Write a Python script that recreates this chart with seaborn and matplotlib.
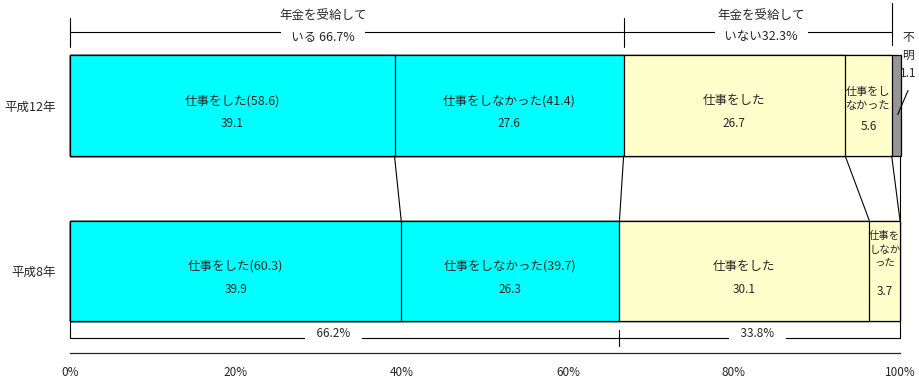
import numpy as np
import pandas as pd
import matplotlib
matplotlib.use("Agg")
import matplotlib.pyplot as plt
import seaborn as sns

# data
years = ["平成12年", "平成8年"]
seg_names = ["受給・仕事をした", "受給・仕事をしなかった", "非受給・仕事をした", "非受給・仕事をしなかった", "不明"]
vals_h12 = [39.1, 27.6, 26.7, 5.6, 1.1]
vals_h8 = [39.9, 26.3, 30.1, 3.7, 0.0]
seg_colors = ["#00FFFF", "#00FFFF", "#FFFFCC", "#FFFFCC", "#969696"]

labels_h12 = ["仕事をした(58.6)", "仕事をしなかった(41.4)", "仕事をした", "仕事をし\nなかった", ""]
labels_h8 = ["仕事をした(60.3)", "仕事をしなかった(39.7)", "仕事をした", "仕事を\nしなか\nった", ""]
top_groups = ["年金を受給して\nいる 66.7%", "年金を受給して\nいない32.3%"]
bottom_groups = ["66.2%", "33.8%"]
xticks = [0, 20, 40, 60, 80, 100]
xticklabels = ["0%", "20%", "40%", "60%", "80%", "100%"]

sns.set_style("white")
plt.rcParams["font.family"] = ["Noto Sans CJK JP", "DejaVu Sans"]

df = pd.DataFrame({"year": np.repeat(years, len(seg_names)),
                   "seg": seg_names * 2,
                   "value": vals_h12 + vals_h8})
df["cum"] = df.groupby("year", sort=False)["value"].cumsum()

fig = plt.figure(figsize=(9.2, 3.8), dpi=100)
ax = fig.add_axes([70 / 920, 27 / 380, 830 / 920, 353 / 380])

bw = 0.61
# stacked bars: draw cumulative sums from the outermost segment inwards
for i in range(len(seg_names) - 1, -1, -1):
    sub = df[df["seg"] == seg_names[i]]
    sns.barplot(data=sub, x="cum", y="year", order=years, orient="h",
                color=seg_colors[i], saturation=1, width=bw,
                edgecolor="black", linewidth=0.9, ax=ax)
for p in ax.patches:
    p.set_clip_on(False)

ax.set_xlim(0, 100)
ax.set_ylim(1.4955, -0.6375)
ax.set_xlabel("")
ax.set_ylabel("")
for s in ["top", "right", "left"]:
    ax.spines[s].set_visible(False)
ax.spines["bottom"].set_linewidth(0.9)
ax.set_xticks(xticks)
ax.set_xticklabels(xticklabels, fontsize=8.5)
ax.tick_params(axis="x", direction="in", length=3, width=0.8, pad=9)
ax.tick_params(axis="y", length=0, pad=10, labelsize=9)

# labels inside the bars
for row, (vals, labs) in enumerate([(vals_h12, labels_h12), (vals_h8, labels_h8)]):
    left = 0.0
    for i, (v, lab) in enumerate(zip(vals, labs)):
        if v <= 0 or lab == "":
            left += v
            continue
        cx = left + v / 2
        if i == 3:
            fs = 8 if row == 0 else 7.5
            ly = row - 0.04 if row == 0 else row - 0.13
            ax.text(cx, ly, lab, ha="center", va="center", fontsize=fs, linespacing=1.45)
            ax.text(cx, row + 0.125, f"{v:.1f}", ha="center", va="center", fontsize=8.5)
        else:
            ax.text(cx, row - 0.03, lab, ha="center", va="center", fontsize=9)
            ax.text(cx, row + 0.11, f"{v:.1f}", ha="center", va="center", fontsize=8.5)
        left += v

# connecting lines between the two bars
cum12 = np.cumsum(vals_h12)
cum8 = np.cumsum(vals_h8)
pairs = [(cum12[0], cum8[0]), (cum12[1], cum8[1]), (cum12[2], cum8[2]),
         (cum12[3], cum8[3]), (min(cum12[4], 100), cum8[3])]
for a, b in pairs:
    ax.plot([a, b], [0 + bw / 2, 1 - bw / 2], color="black", lw=0.8, clip_on=False)

# top brackets
recv = cum12[1]
unk = cum12[3]
ax.plot([0, unk], [-0.444, -0.444], color="black", lw=0.8, clip_on=False)
for x, y0, y1 in [(0, -0.529, -0.353), (recv, -0.529, -0.353), (unk, -0.62, -0.366)]:
    ax.plot([x, x], [y0, y1], color="black", lw=0.8, clip_on=False)
for txt, cx in zip(top_groups, [30.5, 83.3]):
    l1, l2 = txt.split("\n")
    ax.text(cx, -0.547, l1, ha="center", va="center", fontsize=9, zorder=6)
    ax.text(cx, -0.414, "   " + l2 + "   ", ha="center", va="center", fontsize=9, zorder=5,
            bbox=dict(boxstyle="square,pad=0.15", fc="white", ec="none"))

# bottom brackets
yb = 1.405
ax.plot([0, 100], [yb, yb], color="black", lw=0.8, clip_on=False)
ax.plot([0, 0], [1 + bw / 2, yb], color="black", lw=0.8, clip_on=False)
ax.plot([100, 100], [1 + bw / 2, yb], color="black", lw=0.8, clip_on=False)
ax.plot([cum8[1], cum8[1]], [1.356, 1.453], color="black", lw=0.8, clip_on=False)
for txt, cx in zip(bottom_groups, [31.7, 82.8]):
    ax.text(cx, 1.378, "    " + txt + "    ", ha="center", va="center", fontsize=8.5, zorder=5,
            bbox=dict(boxstyle="square,pad=0.1", fc="white", ec="none"))

# 不明 label with leader line
ax.annotate("", xy=(99.6, 0.07), xytext=(101.1, -0.106),
            arrowprops=dict(arrowstyle="-", color="black", lw=0.8), annotation_clip=False)
ax.text(100.95, -0.3, "不\n明\n1.1", ha="center", va="center", fontsize=8.5,
        linespacing=1.5, clip_on=False)

fig.savefig("out.png", dpi=100)
